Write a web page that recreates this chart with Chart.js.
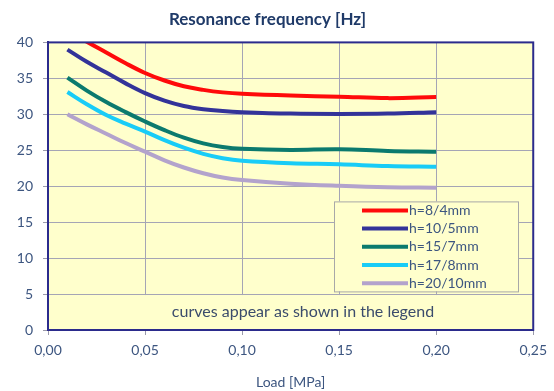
<!DOCTYPE html>
<html>
<head>
<meta charset="utf-8">
<script src="https://cdn.jsdelivr.net/npm/chart.js@4"></script>
<style>
  html,body{margin:0;padding:0;background:#ffffff;}
  #wrap{width:554px;height:391px;position:relative;}
</style>
</head>
<body>
<div id="wrap"><canvas id="c" width="554" height="391"></canvas></div>
<script>
// ---- data ----
const loads  = [0.01, 0.02, 0.03, 0.04, 0.05, 0.06, 0.07, 0.08, 0.09, 0.10, 0.125, 0.15, 0.175, 0.20];
const h8_4   = [41.7, 40.1, 38.6, 37.1, 35.75, 34.7, 33.9, 33.4, 33.05, 32.85, 32.6, 32.45, 32.25, 32.4];
const h10_5  = [39.0, 37.3, 35.8, 34.3, 32.95, 31.9, 31.15, 30.7, 30.45, 30.3, 30.1, 30.05, 30.1, 30.3];
const h15_7  = [35.1, 33.3, 31.7, 30.3, 29.0, 27.8, 26.75, 25.95, 25.45, 25.2, 25.05, 25.15, 24.9, 24.8];
const h17_8  = [33.1, 31.4, 29.9, 28.7, 27.6, 26.4, 25.35, 24.5, 23.9, 23.55, 23.2, 23.05, 22.8, 22.7];
const h20_10 = [30.0, 28.6, 27.3, 26.0, 24.8, 23.6, 22.6, 21.8, 21.2, 20.85, 20.35, 20.05, 19.85, 19.8];
const seriesLabels = ['h=8/4mm', 'h=10/5mm', 'h=15/7mm', 'h=17/8mm', 'h=20/10mm'];
const xTickLabels = ['0,00', '0,05', '0,10', '0,15', '0,20', '0,25'];
const yTickLabels = ['0', '5', '10', '15', '20', '25', '30', '35', '40'];
const chartTitle = 'Resonance frequency [Hz]';
const xTitle = 'Load [MPa]';
const noteText = 'curves appear as shown in the legend';

const colors = ['#ff0a0a', '#333399', '#0b7a6e', '#19ccf7', '#b3a3cc'];
const seriesValues = [h8_4, h10_5, h15_7, h17_8, h20_10];

const FONT = 'Lato, "Open Sans", sans-serif';
const BG = '#ffffcc';
const FRAME = '#2b2b8c';
const TXT = '#3d5680';

const datasets = seriesValues.map((vals, i) => ({
  label: seriesLabels[i],
  data: loads.map((x, j) => ({x: x, y: vals[j]})),
  borderColor: colors[i],
  backgroundColor: colors[i],
  borderWidth: 4,
  pointRadius: 0,
  fill: false,
  tension: 0.4
}));

const decor = {
  id: 'decor',
  beforeDraw(chart) {
    const {ctx, chartArea: a} = chart;
    ctx.save();
    ctx.fillStyle = BG;
    ctx.fillRect(a.left, a.top, a.right - a.left, a.bottom - a.top);
    ctx.restore();
  },
  beforeDatasetsDraw(chart) {
    const {ctx, chartArea: a, scales} = chart;
    const y5 = scales.y.getPixelForValue(5);
    ctx.save();
    ctx.fillStyle = BG;
    ctx.fillRect(a.left + 1, y5 + 1, a.right - a.left - 2, a.bottom - y5 - 2);
    ctx.fillStyle = '#3b4c6c';
    ctx.font = '16px ' + FONT;
    ctx.textAlign = 'center';
    ctx.textBaseline = 'middle';
    ctx.fillText(noteText, a.left + 255, (y5 + a.bottom) / 2);
    ctx.restore();
  },
  afterDatasetsDraw(chart) {
    const {ctx, chartArea: a} = chart;
    ctx.save();
    const lx = a.left + 286, ly = a.top + 159, lw = 184, lh = 90;
    ctx.fillStyle = BG;
    ctx.fillRect(lx, ly, lw, lh);
    ctx.strokeStyle = '#a8a8a8';
    ctx.lineWidth = 1;
    ctx.strokeRect(lx + 0.5, ly + 0.5, lw, lh);
    ctx.font = '14px ' + FONT;
    ctx.textBaseline = 'middle';
    ctx.textAlign = 'left';
    chart.data.datasets.forEach((ds, i) => {
      const yy = ly + 9 + i * 18.2;
      ctx.strokeStyle = ds.borderColor;
      ctx.lineWidth = 4;
      ctx.beginPath();
      ctx.moveTo(lx + 28, yy);
      ctx.lineTo(lx + 74, yy);
      ctx.stroke();
      ctx.fillStyle = TXT;
      ctx.fillText(ds.label, lx + 75, yy);
    });
    ctx.strokeStyle = FRAME;
    ctx.lineWidth = 2;
    ctx.strokeRect(a.left, a.top, a.right - a.left, a.bottom - a.top);
    ctx.restore();
  }
};

new Chart(document.getElementById('c'), {
  type: 'line',
  data: { datasets: datasets },
  options: {
    responsive: false,
    animation: false,
    layout: { padding: { left: 0, right: 19, top: 0, bottom: 0 } },
    plugins: {
      legend: { display: false },
      tooltip: { enabled: false },
      title: {
        display: true,
        text: chartTitle,
        color: '#1f3a68',
        font: { family: FONT, size: 17, weight: 'bold' },
        padding: { top: 9, bottom: 13 }
      }
    },
    scales: {
      x: {
        type: 'linear',
        min: 0, max: 0.25,
        afterFit(s) { s.height = 61; },
        ticks: {
          stepSize: 0.05,
          color: TXT,
          font: { family: FONT, size: 14 },
          padding: 7,
          maxRotation: 0,
          callback: (v, i) => xTickLabels[i]
        },
        grid: { color: '#a5a5b5', lineWidth: 1, tickLength: 5, tickColor: '#9a9aaa' },
        border: { color: FRAME, width: 2 },
        title: {
          display: true,
          text: xTitle,
          color: TXT,
          font: { family: FONT, size: 14 },
          padding: { top: 3, bottom: 0 }
        }
      },
      y: {
        type: 'linear',
        min: 0, max: 40,
        afterFit(s) { s.width = 48; },
        ticks: {
          stepSize: 5,
          color: TXT,
          font: { family: FONT, size: 14 },
          padding: 10,
          callback: (v, i) => yTickLabels[i]
        },
        grid: { color: '#a5a5b5', lineWidth: 1, tickLength: 5, tickColor: '#9a9aaa' },
        border: { color: FRAME, width: 2 }
      }
    }
  },
  plugins: [decor]
});
</script>
</body>
</html>
